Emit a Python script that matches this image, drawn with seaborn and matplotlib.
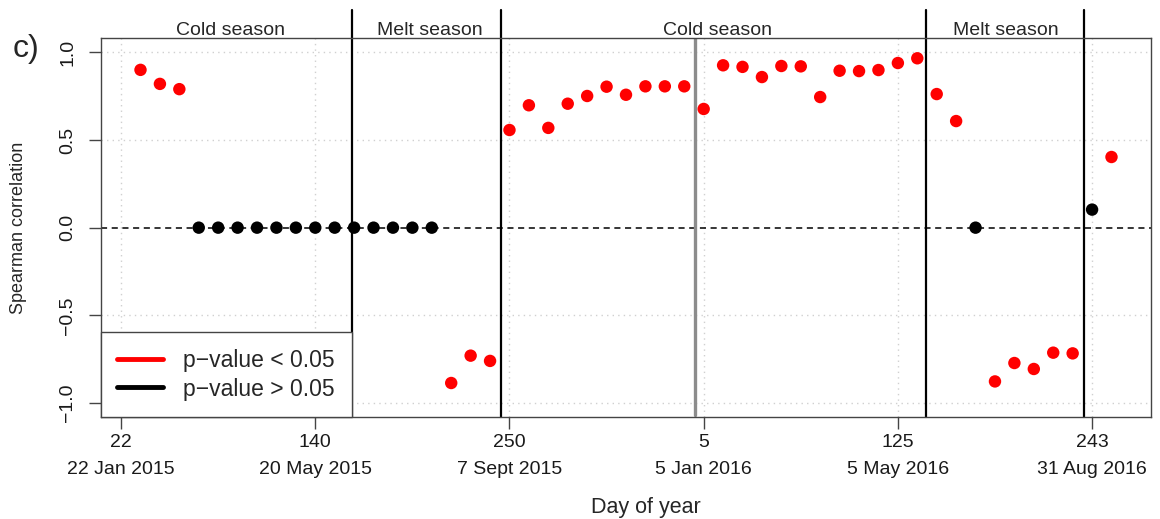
import numpy as np
import pandas as pd
import matplotlib.pyplot as plt
import seaborn as sns
from matplotlib.lines import Line2D

# ---- data ----
sample_idx = list(range(1, 52))
spearman = [0.90, 0.82, 0.79,
            0, 0, 0, 0, 0, 0, 0, 0, 0, 0, 0, 0, 0,
            -0.886, -0.73, -0.76,
            0.557, 0.698, 0.569, 0.707, 0.751, 0.804, 0.758, 0.806, 0.806, 0.806,
            0.677, 0.926, 0.917, 0.859, 0.922, 0.92, 0.745, 0.895, 0.893, 0.899, 0.939, 0.966, 0.762, 0.608,
            0.0, -0.877, -0.772, -0.806, -0.713, -0.717, 0.103, 0.403]
signif = (['p<0.05'] * 3 + ['p>0.05'] * 13 + ['p<0.05'] * 27
          + ['p>0.05'] + ['p<0.05'] * 5 + ['p>0.05'] + ['p<0.05'])

tick_pos = [0, 10, 20, 30, 40, 50]
tick_doy = ['22', '140', '250', '5', '125', '243']
tick_date = ['22 Jan 2015', '20 May 2015', '7 Sept 2015', '5 Jan 2016', '5 May 2016', '31 Aug 2016']

season_bounds = [11.88, 19.55, 41.45, 49.59]
year_bound = 29.53
season_names = ['Cold season', 'Melt season', 'Cold season', 'Melt season']
season_mid = [5.66, 15.9, 30.7, 45.55]

df = pd.DataFrame({'idx': sample_idx, 'rho': spearman, 'sig': signif})

sns.set_style("white")
plt.rcParams['font.family'] = ['Liberation Sans', 'DejaVu Sans']

fig = plt.figure(figsize=(11.6, 5.19), dpi=100)
ax = fig.add_axes([0.0868, 0.1965, 0.9052, 0.7297])

# grid
for t in tick_pos:
    ax.axvline(t, color='#d0d0d0', lw=1, ls=(0, (1, 3)), zorder=0)
for t in [-1, -0.5, 0.5, 1]:
    ax.axhline(t, color='#d0d0d0', lw=1, ls=(0, (1, 3)), zorder=0)
ax.axhline(0, color='black', lw=1.1, ls=(0, (4, 3)), zorder=1)

sns.scatterplot(data=df, x='idx', y='rho', hue='sig',
                palette={'p<0.05': '#ff0000', 'p>0.05': 'black'},
                s=80, edgecolor='none', legend=False, ax=ax, zorder=3)

for b in season_bounds:
    ax.axvline(b, ymin=0, ymax=1.075, color='black', lw=1.6, clip_on=False, zorder=2)
ax.axvline(year_bound, ymin=0.005, ymax=1, color='#8c8c8c', lw=2.4, zorder=2)

for name, m in zip(season_names, season_mid):
    ax.text(m, 1.008, name, transform=ax.get_xaxis_transform(),
            ha='center', va='baseline', fontsize=14)

ax.set_xlim(-1.05, 53.02)
ax.set_ylim(-1.08, 1.08)
ax.set_xticks(tick_pos)
ax.set_xticklabels([d + '\n' + s for d, s in zip(tick_doy, tick_date)], fontsize=14)
plt.setp(ax.get_xticklabels(), linespacing=1.75)
ax.set_yticks([-1, -0.5, 0, 0.5, 1])
ax.set_yticklabels(['\u22121.0', '\u22120.5', '0.0', '0.5', '1.0'], fontsize=14,
                   rotation=90, va='center')
ax.tick_params(axis='both', direction='out', length=8.5, width=1, color='#444444',
               bottom=True, left=True, pad=4, labelcolor='#1a1a1a')
ax.tick_params(axis='y', pad=9)

for sp in ax.spines.values():
    sp.set_color('#444444')
    sp.set_linewidth(1)

ax.set_xlabel('Day of year', fontsize=15.5)
ax.xaxis.set_label_coords(0.5195, -0.211)
ax.set_ylabel('Spearman correlation', fontsize=13)
ax.yaxis.set_label_coords(-0.07, 0.5)

handles = [Line2D([], [], color='#ff0000', lw=3.5),
           Line2D([], [], color='black', lw=3.5)]
leg = ax.legend(handles, ['p\u2212value < 0.05', 'p\u2212value > 0.05'],
                loc='lower left', bbox_to_anchor=(0, 0, 0.239, 0.2),
                mode='expand', borderaxespad=0, fontsize=16.5, frameon=True,
                fancybox=False, edgecolor='#444444', framealpha=1,
                handlelength=2.0, handletextpad=0.85, labelspacing=0.25,
                borderpad=0.72)
leg.get_frame().set_linewidth(1)
leg.set_zorder(5)

fig.text(0.022, 0.905, 'c)', fontsize=23, ha='center', va='center')

fig.savefig('out.png', dpi=100)
